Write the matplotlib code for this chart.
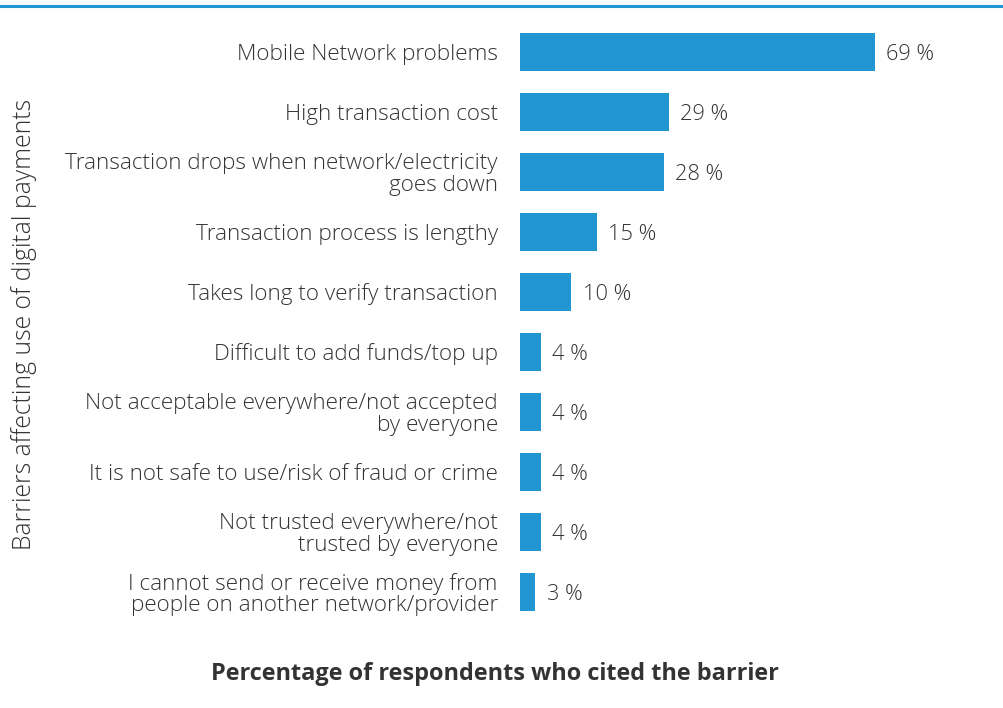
import matplotlib
matplotlib.use("Agg")
import matplotlib.pyplot as plt
from matplotlib.lines import Line2D

categories = [
    "Mobile Network problems",
    "High transaction cost",
    "Transaction drops when network/electricity\ngoes down",
    "Transaction process is lengthy",
    "Takes long to verify transaction",
    "Difficult to add funds/top up",
    "Not acceptable everywhere/not accepted\nby everyone",
    "It is not safe to use/risk of fraud or crime",
    "Not trusted everywhere/not\ntrusted by everyone",
    "I cannot send or receive money from\npeople on another network/provider",
]
values = [69, 29, 28, 15, 10, 4, 4, 4, 4, 3]
value_labels = [f"{v} %" for v in values]

plt.rcParams['font.family'] = ['Open Sans', 'DejaVu Sans']
TXT = "#333333"
BLUE = "#2196d3"

fig = plt.figure(figsize=(10.04, 7.08), dpi=100)
ax = fig.add_axes([520/1004, 1-622/708, 463/1004, 600/708])

ypos = list(range(len(categories)))
ax.barh(ypos, values, height=0.63, color=BLUE)
ax.set_ylim(len(categories)-0.5, -0.5)
ax.set_xlim(0, 90)
ax.set_yticks(ypos)
ax.set_yticklabels(categories, fontsize=16.2, color=TXT, ha='right',
                   linespacing=1.0, fontweight=300)
ax.tick_params(axis='y', length=0, pad=16)
ax.set_xticks([])
for s in ax.spines.values():
    s.set_visible(False)

for y, v, lab in zip(ypos, values, value_labels):
    ax.annotate(lab, (v, y), xytext=(8, -1.5), textcoords='offset points',
                va='center', ha='left', fontsize=15.7, color=TXT, fontweight=300)

fig.text(24/1004, 1-324/708, "Barriers affecting use of digital payments", rotation=90,
         ha='center', va='center', fontsize=17.8, color=TXT, fontweight=300)
fig.text(495/1004, 1-674/708, "Percentage of respondents who cited the barrier",
         ha='center', va='center', fontsize=16.9, fontweight='bold', color=TXT)

fig.add_artist(Line2D([0, 1], [1-6/708, 1-6/708], transform=fig.transFigure,
                      color=BLUE, linewidth=2.2))

fig.savefig("out.png", dpi=100)
